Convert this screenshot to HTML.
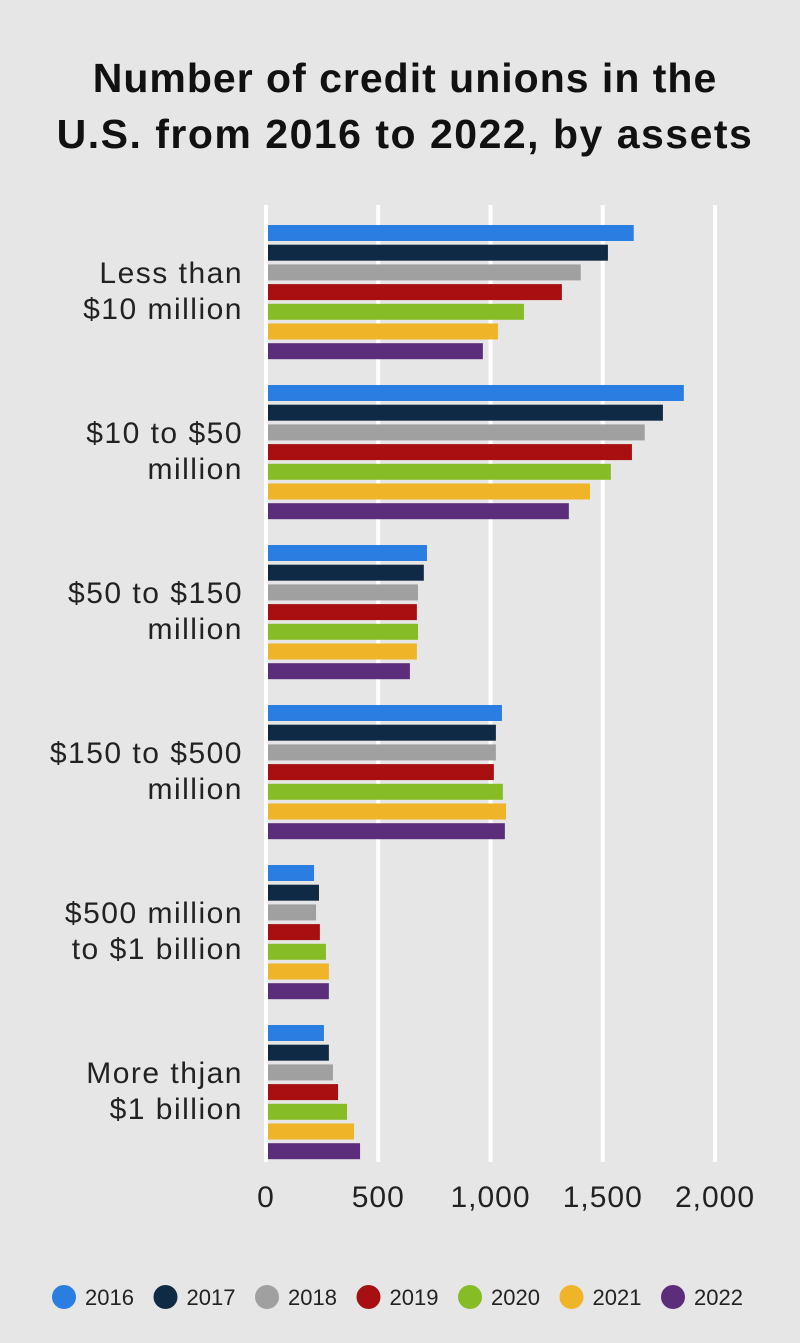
<!DOCTYPE html>
<html><head><meta charset="utf-8"><style>
body{margin:0;background:#e6e6e6;}
svg{display:block;font-family:"Liberation Sans",sans-serif;}
</style></head><body>
<svg id="c" width="800" height="1343" viewBox="0 0 800 1343">
<rect width="800" height="1343" fill="#e6e6e6"/>
<text x="405" y="92" text-anchor="middle" font-size="41" font-weight="bold" letter-spacing="1" fill="#111">Number of credit unions in the</text>
<text x="405" y="148" text-anchor="middle" font-size="41" font-weight="bold" letter-spacing="1.5" fill="#111">U.S. from 2016 to 2022, by assets</text>
<g id="grid"></g><g id="bars"></g><g id="labels"></g><g id="legend"></g>
</svg>
<script>
const categories=[["Less than","$10 million"],["$10 to $50","million"],["$50 to $150","million"],["$150 to $500","million"],["$500 million","to $1 billion"],["More thjan","$1 billion"]];
const years=["2016","2017","2018","2019","2020","2021","2022"];
const s2016=[1638,1861,717,1051,214,258];
const s2017=[1523,1768,703,1024,236,280];
const s2018=[1402,1687,677,1024,223,298];
const s2019=[1318,1630,672,1015,240,321];
const s2020=[1149,1536,677,1055,267,361];
const s2021=[1033,1443,672,1069,280,392];
const s2022=[966,1349,641,1064,280,419];
const ticks=[0,500,1000,1500,2000];
const tickLabels=["0","500","1,000","1,500","2,000"];
const series=[s2016,s2017,s2018,s2019,s2020,s2021,s2022];
const colors=["#2a7de1","#0f2a44","#a0a0a0","#a80f10","#86bc25","#f0b428","#5c2d7a"];
const NS="http://www.w3.org/2000/svg";
const x0=266,xs=(715-266)/2000;
const X=v=>x0+v*xs;
const gTop=225,gPitch=160,bPitch=19.7,bH=16;
function mk(t,a,p){const e=document.createElementNS(NS,t);for(const k in a)e.setAttribute(k,a[k]);p.appendChild(e);return e;}
const grid=document.getElementById('grid');
ticks.forEach((t,i)=>{
 const l=mk('line',{x1:X(t),x2:X(t),y1:205,y2:1162,stroke:'#fff','stroke-width':4},grid);
 
 
 const tx=mk('text',{x:X(t),y:1207,'text-anchor':'middle','font-size':30,'letter-spacing':1,fill:'#222'},grid);
 tx.textContent=tickLabels[i];
 
 
});
const bars=document.getElementById('bars');
categories.forEach((c,ci)=>{
 series.forEach((s,si)=>{
  const y=gTop+ci*gPitch+si*bPitch;
  const r=mk('rect',{x:268,y:y,width:Math.max(0,X(s[ci])-268),height:bH,fill:colors[si]},bars);
  
  
 });
 const cy=gTop+ci*gPitch+3*bPitch+bH/2;
 const t=mk('text',{x:243,y:cy-9,'text-anchor':'end','font-size':30,'letter-spacing':1.5,fill:'#222'},document.getElementById('labels'));
 t.textContent=c[0];
 
 
 const t2=mk('text',{x:243,y:cy+27,'text-anchor':'end','font-size':30,'letter-spacing':1.5,fill:'#222'},document.getElementById('labels'));
 t2.textContent=c[1];
 
 
});
const lg=document.getElementById('legend');
years.forEach((y,i)=>{
 const tx=85+i*101.5;
 const c=mk('circle',{cx:tx-21,cy:1297,r:12,fill:colors[i]},lg);
 
 
 const t=mk('text',{x:tx,y:1305,'font-size':22,fill:'#222'},lg);
 t.textContent=y;
 
 
});
</script>
</body></html>
